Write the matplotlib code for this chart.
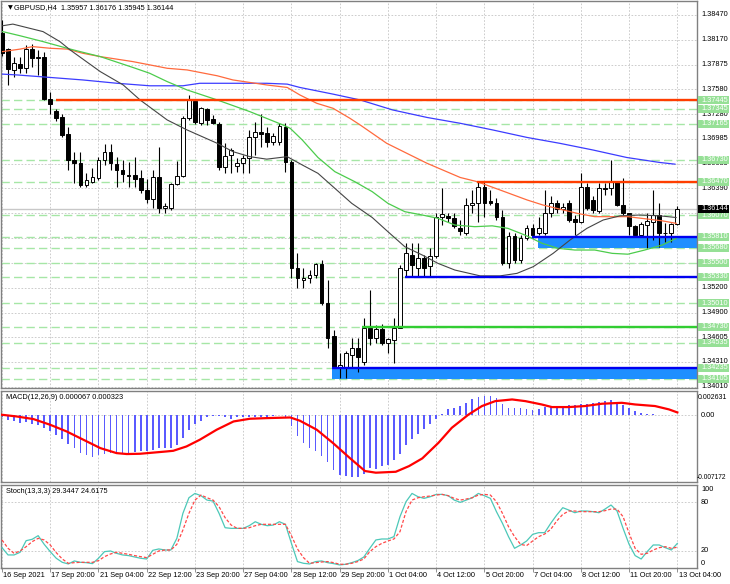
import matplotlib
matplotlib.use("Agg")
import matplotlib.pyplot as plt
from matplotlib.patches import Rectangle
from matplotlib.transforms import blended_transform_factory as blend
import numpy as np

plt.rcParams['font.family'] = ['Liberation Sans', 'DejaVu Sans']

# ---------------- data ----------------
opens = [1.3825, 1.3806, 1.3781, 1.3788, 1.3783, 1.3806, 1.3795, 1.3797, 1.3746, 1.3732,
         1.3725, 1.3704, 1.3673, 1.3669, 1.3643, 1.3646, 1.3651, 1.3673, 1.3682, 1.3668,
         1.3661, 1.3655, 1.3655, 1.3651, 1.3637, 1.3626, 1.3652, 1.3615, 1.3615, 1.3644,
         1.3654, 1.3723, 1.3744, 1.3717, 1.3734, 1.3722, 1.3716, 1.3664, 1.3679, 1.3666,
         1.3669, 1.3675, 1.3700, 1.3706, 1.3705, 1.3694, 1.3694, 1.3712, 1.3670, 1.3543,
         1.3529, 1.3531, 1.3535, 1.3548, 1.3501, 1.3462, 1.3424, 1.3423, 1.3439, 1.3447,
         1.3431, 1.3471, 1.3459, 1.3470, 1.3453, 1.3457, 1.3472, 1.3541, 1.3559, 1.3544,
         1.3556, 1.3546, 1.3558, 1.3605, 1.3606, 1.3603, 1.3592, 1.3586, 1.3619, 1.3621,
         1.3641, 1.3624, 1.3622, 1.3605, 1.3549, 1.3582, 1.3553, 1.3580, 1.3592, 1.3585,
         1.3585, 1.3609, 1.3621, 1.3614, 1.3621, 1.3602, 1.3599, 1.3641, 1.3625, 1.3612,
         1.3639, 1.3639, 1.3646, 1.3619, 1.3609, 1.3594, 1.3583, 1.3595, 1.3599, 1.3607,
         1.3586, 1.3585, 1.35957]
highs = [1.3841, 1.3807, 1.3797, 1.3797, 1.3811, 1.3812, 1.3805, 1.3802, 1.3755, 1.3734,
         1.3728, 1.3712, 1.3682, 1.3682, 1.3657, 1.3663, 1.3676, 1.3692, 1.3692, 1.3676,
         1.3673, 1.3670, 1.3676, 1.3661, 1.3650, 1.3661, 1.3688, 1.3622, 1.3645, 1.3672,
         1.3726, 1.3751, 1.3745, 1.3736, 1.3735, 1.3727, 1.3718, 1.3693, 1.3687, 1.3675,
         1.3679, 1.3709, 1.3718, 1.3728, 1.3712, 1.3705, 1.3717, 1.3717, 1.3673, 1.3561,
         1.3544, 1.3541, 1.3550, 1.3553, 1.3529, 1.3469, 1.3441, 1.3444, 1.3459, 1.3459,
         1.3483, 1.3517, 1.3475, 1.3476, 1.3460, 1.3484, 1.3547, 1.3574, 1.3574, 1.3574,
         1.3559, 1.3567, 1.3609, 1.3639, 1.3610, 1.3610, 1.3601, 1.3627, 1.3637, 1.3647,
         1.3647, 1.3637, 1.3628, 1.3613, 1.3587, 1.3585, 1.3583, 1.3595, 1.3596, 1.3605,
         1.3637, 1.3630, 1.3625, 1.3621, 1.3625, 1.3607, 1.3657, 1.3645, 1.3630, 1.3645,
         1.3645, 1.3673, 1.3647, 1.3651, 1.3610, 1.3595, 1.3599, 1.3610, 1.3637, 1.3621,
         1.3597, 1.3597, 1.36176]
lows = [1.3798, 1.3763, 1.3773, 1.3777, 1.3777, 1.3785, 1.3775, 1.3745, 1.3728, 1.3720,
        1.3700, 1.3661, 1.3645, 1.3641, 1.3641, 1.3645, 1.3649, 1.3667, 1.3661, 1.3641,
        1.3646, 1.3641, 1.3641, 1.3633, 1.3622, 1.3615, 1.3609, 1.3609, 1.3613, 1.3643,
        1.3652, 1.3721, 1.3716, 1.3715, 1.3715, 1.3716, 1.3661, 1.3657, 1.3657, 1.3658,
        1.3657, 1.3657, 1.3679, 1.3688, 1.3688, 1.3691, 1.3691, 1.3658, 1.3531, 1.3520,
        1.3519, 1.3526, 1.3531, 1.3499, 1.3448, 1.3423, 1.3412, 1.3411, 1.3423, 1.3419,
        1.3427, 1.3451, 1.3453, 1.3451, 1.3442, 1.3430, 1.3471, 1.3533, 1.3533, 1.3533,
        1.3533, 1.3533, 1.3555, 1.3595, 1.3599, 1.3591, 1.3583, 1.3583, 1.3610, 1.3599,
        1.3605, 1.3619, 1.3601, 1.3547, 1.3543, 1.3550, 1.3550, 1.3577, 1.3579, 1.3583,
        1.3583, 1.3605, 1.3610, 1.3610, 1.3599, 1.3583, 1.3597, 1.3613, 1.3610, 1.3609,
        1.3631, 1.3631, 1.3618, 1.3607, 1.3583, 1.3582, 1.3582, 1.3567, 1.3577, 1.3569,
        1.3575, 1.3575, 1.35945]
closes = [1.3801, 1.3782, 1.3789, 1.3783, 1.3806, 1.3795, 1.3796, 1.3746, 1.3740, 1.3723,
          1.3703, 1.3673, 1.3669, 1.3643, 1.3649, 1.3652, 1.3673, 1.3682, 1.3669, 1.3661,
          1.3656, 1.3654, 1.3650, 1.3637, 1.3626, 1.3652, 1.3615, 1.3618, 1.3644, 1.3654,
          1.3723, 1.3745, 1.3718, 1.3735, 1.3721, 1.3717, 1.3664, 1.3678, 1.3685, 1.3669,
          1.3675, 1.3700, 1.3706, 1.3704, 1.3694, 1.3702, 1.3714, 1.3670, 1.3543, 1.3531,
          1.3532, 1.3535, 1.3548, 1.3501, 1.3460, 1.3424, 1.3427, 1.3441, 1.3447, 1.3437,
          1.3472, 1.3459, 1.3470, 1.3453, 1.3458, 1.3472, 1.3543, 1.3561, 1.3547, 1.3556,
          1.3544, 1.3558, 1.3605, 1.3608, 1.3603, 1.3594, 1.3588, 1.3619, 1.3621, 1.3641,
          1.3621, 1.3621, 1.3605, 1.3549, 1.3582, 1.3553, 1.3580, 1.3592, 1.3583, 1.3592,
          1.3609, 1.3621, 1.3614, 1.3617, 1.3601, 1.3599, 1.3641, 1.3615, 1.3613, 1.3639,
          1.3638, 1.3646, 1.3619, 1.3609, 1.3594, 1.3583, 1.3596, 1.3600, 1.3607, 1.3585,
          1.3585, 1.3596, 1.36144]

# moving averages (bar position, price)
ma_gray_x = [0.1, 1.8, 6.8, 9.6, 11.3, 16.3, 20.1, 22.9, 27.4, 30.7, 35.7, 38.3, 41.1, 43.9, 47.3,
             48.3, 49.8, 52.4, 55.2, 58.0, 61.4, 64.0, 66.8, 69.7, 72.3, 75.1, 79.3, 82.6, 85.4,
             88.1, 91.4, 94.2, 97.0, 99.7, 102.5, 105.8, 109.1, 111.8]
ma_gray = [1.3834, 1.3836, 1.3827, 1.3815, 1.3805, 1.3779, 1.3763, 1.3745, 1.3721, 1.3709,
           1.3693, 1.3683, 1.3677, 1.3674, 1.3677, 1.3673, 1.3667, 1.3657, 1.3639, 1.3621,
           1.3604, 1.3587, 1.3569, 1.3559, 1.3549, 1.3541, 1.3534, 1.3534, 1.3537, 1.3545,
           1.3561, 1.3577, 1.3591, 1.3601, 1.3606, 1.3607, 1.3606, 1.3604]
ma_green_x = [0.1, 3.0, 6.8, 10.8, 12.4, 16.3, 21.7, 24.5, 27.4, 30.7, 35.7, 41.1, 46.6, 47.8,
              49.8, 52.4, 55.2, 58.5, 61.4, 64.0, 66.8, 69.7, 72.3, 75.1, 78.4, 81.3, 83.9,
              86.7, 89.6, 92.2, 95.0, 98.3, 101.2, 103.8, 106.6, 109.5, 111.8]
ma_green = [1.3827, 1.3822, 1.3815, 1.3807, 1.3804, 1.3797, 1.3784, 1.3777, 1.3767, 1.3757,
            1.3745, 1.3731, 1.3715, 1.3711, 1.3697, 1.3676, 1.3659, 1.3647, 1.3635, 1.3621,
            1.3611, 1.3607, 1.3603, 1.3595, 1.3593, 1.3594, 1.3591, 1.3583, 1.3573, 1.3567,
            1.3565, 1.3565, 1.3561, 1.3560, 1.3565, 1.3571, 1.3579]
ma_orange_x = [0.1, 3.0, 5.1, 8.0, 10.8, 13.4, 16.3, 21.7, 27.4, 30.7, 35.7, 38.3, 43.9, 47.3,
               49.4, 52.2, 54.9, 57.7, 59.4, 63.8, 67.7, 70.5, 76.0, 78.8, 82.6, 87.1, 89.7,
               95.4, 98.3, 103.8, 109.5, 111.8]
ma_orange = [1.3803, 1.3806, 1.3809, 1.3807, 1.3806, 1.3801, 1.3797, 1.3791, 1.3783, 1.3781,
             1.3774, 1.3769, 1.3763, 1.3760, 1.3751, 1.3741, 1.3735, 1.3723, 1.3715, 1.3693,
             1.3679, 1.3669, 1.3652, 1.3647, 1.3637, 1.3625, 1.3619, 1.3609, 1.3605, 1.3605,
             1.3600, 1.3597]
ma_blue_x = [0.1, 2.5, 8.0, 13.4, 19.1, 24.5, 30.0, 32.8, 38.3, 43.9, 47.3, 49.4, 54.9, 59.4,
             64.8, 70.5, 76.0, 81.4, 87.1, 92.5, 98.0, 103.6, 109.1, 111.6]
ma_blue = [1.3776, 1.3775, 1.3772, 1.3769, 1.3765, 1.3762, 1.3762, 1.3765, 1.3765, 1.3765,
           1.3764, 1.3760, 1.3752, 1.3745, 1.3733, 1.3724, 1.3717, 1.3709, 1.3700, 1.3693,
           1.3685, 1.3676, 1.3670, 1.3668]

# MACD main (histogram) in units of 1e-4
macd_hist = [-2.2, -4.7, -5.7, -8.3, -7.5, -9.3, -10.1, -13.6, -17.2, -20.8,
             -25.1, -30.9, -35.2, -40.6, -43.1, -45.2, -43.1, -41.6, -40.6, -40.6,
             -40.6, -40.6, -39.8, -38.8, -38.1, -37.0, -35.2, -35.2, -35.2, -32.3,
             -24.4, -15.4, -9.3, -5.7, -2.2, -1.1, -0.4, -2.2, -4.3, -2.2,
             -2.2, -1.8, -1.8, -1.8, -1.4, -1.1, 0.7, -1.4, -11.8, -22.6,
             -29.8, -35.2, -38.1, -44.2, -50.3, -58.5, -63.9, -65.7, -66.4, -66.8,
             -63.2, -56.4, -58.2, -54.6, -53.9, -48.5, -41.3, -32.3, -25.8, -19.7,
             -15.1, -9.7, -3.6, 1.8, 6.5, 8.3, 10.1, 13.6, 17.2, 19.7,
             20.8, 20.8, 19.0, 12.6, 8.3, 7.5, 7.5, 6.5, 5.4, 6.5,
             9.0, 10.1, 10.1, 10.1, 11.1, 11.1, 11.8, 11.8, 13.6, 14.7,
             15.4, 16.2, 14.7, 11.1, 7.5, 4.7, 2.9, 1.8, 1.1, 0.7,
             0.7, 0.7, 0.67]
# MACD signal (bar position, value in units of 1e-3)
macd_sig_x = [0, 2.4, 5.2, 8.0, 10.7, 13.5, 16.3, 19.0, 20.7, 22.9, 27.3, 28.4, 30.6, 32.8, 35.6,
              38.4, 41.1, 43.9, 47.8, 49.4, 52.2, 54.9, 57.7, 60.2, 62.0, 65.3, 67.5, 69.7, 72.4,
              74.6, 77.4, 79.6, 81.8, 84.6, 86.8, 89.5, 91.2, 94.0, 96.7, 99.5, 102.8, 105.0,
              108.3, 110.6, 112.0]
macd_sig = [0.07, -0.11, -0.39, -1.01, -1.72, -2.62, -3.52, -4.06, -4.16, -4.13, -3.88, -3.81,
            -3.34, -2.62, -1.54, -0.65, -0.36, -0.29, -0.22, -0.57, -1.54, -2.98, -4.60, -5.99,
            -6.17, -6.07, -5.46, -4.63, -2.94, -1.33, 0.11, 1.01, 1.54, 1.72, 1.54, 1.18, 0.90,
            0.90, 1.01, 1.26, 1.36, 1.18, 1.01, 0.65, 0.323]

stoch_k = [24.1, 15.1, 15.1, 18.4, 32.7, 34.4, 38.9, 28.2, 19.2, 11.0,
           6.0, 4.0, 7.7, 6.0, 5.6, 4.4, 11.0, 19.2, 20.0, 17.1,
           15.1, 14.3, 12.6, 11.0, 10.1, 20.8, 22.5, 21.2, 21.2, 35.6,
           66.4, 85.7, 91.0, 88.2, 82.8, 81.6, 66.4, 48.7, 47.9, 47.9,
           47.9, 51.2, 56.1, 52.9, 51.2, 52.0, 56.1, 52.9, 29.4, 6.9,
           4.8, 4.0, 6.9, 7.7, 5.6, 4.4, 2.8, 3.6, 5.6, 8.1,
           12.5, 23.3, 33.6, 34.8, 34.8, 37.7, 62.3, 80.8, 91.0, 86.9,
           84.9, 86.9, 89.8, 89.8, 88.2, 82.8, 80.0, 82.8, 85.7, 91.0,
           88.2, 84.9, 68.5, 54.1, 37.7, 23.3, 27.4, 32.3, 40.5, 42.6,
           42.6, 54.1, 64.4, 73.4, 70.5, 67.2, 69.3, 69.3, 68.5, 67.2,
           71.7, 76.7, 69.3, 47.9, 28.2, 14.3, 10.1, 19.2, 27.4, 27.4,
           24.1, 21.2, 29.34]
stoch_d = [33.6, 23.3, 17.1, 20.0, 25.3, 31.5, 35.6, 33.6, 27.4, 17.9,
           10.1, 4.8, 5.6, 6.0, 6.0, 6.0, 8.1, 13.0, 16.3, 18.4,
           17.1, 15.9, 14.3, 13.0, 11.8, 15.9, 20.0, 21.2, 21.2, 28.2,
           45.9, 66.4, 82.8, 89.0, 85.7, 82.8, 74.6, 61.1, 52.0, 47.9,
           47.9, 48.7, 51.2, 52.9, 52.9, 52.9, 52.9, 52.9, 38.9, 22.5,
           11.8, 4.8, 5.6, 6.4, 6.9, 5.6, 3.6, 3.6, 4.8, 6.9,
           10.1, 19.2, 25.3, 29.4, 32.3, 34.8, 43.8, 68.5, 82.8, 85.7,
           86.9, 87.8, 89.0, 89.8, 88.2, 84.9, 82.8, 84.1, 85.7, 89.0,
           89.8, 89.0, 80.8, 66.4, 50.0, 37.7, 28.2, 26.6, 32.3, 37.7,
           40.9, 46.7, 57.0, 65.2, 69.3, 69.3, 68.5, 68.5, 68.5, 68.5,
           69.7, 71.7, 71.7, 62.3, 41.8, 23.3, 15.9, 17.1, 21.2, 24.1,
           25.3, 23.3, 24.62]

time_labels = ["16 Sep 2021", "17 Sep 20:00", "21 Sep 04:00", "22 Sep 12:00", "23 Sep 20:00",
               "27 Sep 04:00", "28 Sep 12:00", "29 Sep 20:00", "1 Oct 04:00", "4 Oct 12:00",
               "5 Oct 20:00", "7 Oct 04:00", "8 Oct 12:00", "11 Oct 20:00", "13 Oct 04:00"]
label_bars = list(range(0, 113, 8))

price_ticks = [1.38470, 1.38170, 1.37875, 1.37580, 1.37280, 1.36985, 1.36685, 1.36390,
               1.36095, 1.35795, 1.35500, 1.35200, 1.34900, 1.34605, 1.34310, 1.34010]
level_prices = [1.37445, 1.37345, 1.37165, 1.36730, 1.36470, 1.36070, 1.35810, 1.35680,
                1.35500, 1.35330, 1.35010, 1.34730, 1.34535, 1.34235, 1.34105]
current_price = 1.36144

# drawn objects: (price, start bar)
red_lines = [(1.37445, 9.0), (1.36470, 78.8)]
blue_lines = [(1.35330, 66.8), (1.35810, 87.9), (1.34235, 54.7)]
green_lines = [(1.34730, 59.7)]
blue_zones = [(1.35680, 1.35810, 88.9), (1.34105, 1.34235, 54.7)]

# ---------------- figure ----------------
W, H = 730, 584
fig = plt.figure(figsize=(W / 100, H / 100), dpi=100)
fig.patch.set_facecolor('white')


def box(top, bottom, left=1, right=697):
    return [left / W, 1 - bottom / H, (right - left) / W, (bottom - top) / H]


ax = fig.add_axes(box(1, 388))
axm = fig.add_axes(box(391, 482))
axs = fig.add_axes(box(485, 568))
XL = (-0.166, 115.26)
GRID = dict(color='#c4c4c4', lw=0.6, ls=(0, (2, 2)), zorder=0.5)
FS = 5.3
for a in (ax, axm, axs):
    a.set_xlim(*XL)
    a.set_xticks([])
    a.set_yticks([])
    a.set_facecolor('white')
    for s in a.spines.values():
        s.set_color('#808080')
        s.set_linewidth(1.0)
    for b in label_bars:
        a.axvline(b, **GRID)

ax.set_ylim(1.33995, 1.38637)
axm.set_ylim(-0.007172, 0.002631)
axs.set_ylim(-1.0, 101.4)

# price grid
for p in price_ticks:
    ax.axhline(p, **GRID)

# dashed level lines
for p in level_prices:
    ax.axhline(p, color='#a6e6a6', lw=1.0, ls=(0, (6, 3)), zorder=1)

# current price line
ax.axhline(current_price, color='#c8c8c8', lw=1.0, zorder=1.2)

# zones
for lo, hi, start in blue_zones:
    ax.add_patch(Rectangle((start, lo), XL[1] - start, hi - lo, facecolor='#1e8fff',
                           edgecolor='none', zorder=1.5))

# candles
idx = np.arange(len(closes))
o = np.array(opens); h = np.array(highs); l = np.array(lows); c = np.array(closes)
up = c >= o
ax.vlines(idx, l, h, color='black', lw=0.8, zorder=3)
body_lo = np.minimum(o, c)
body_h = np.maximum(np.abs(c - o), 0.00004)
ax.bar(idx, body_h, bottom=body_lo, width=0.62,
       color=['white' if u else 'black' for u in up], edgecolor='black', linewidth=0.7, zorder=4)

# moving averages
ax.plot(ma_blue_x, ma_blue, color='#3c3cff', lw=0.9, zorder=5)
ax.plot(ma_orange_x, ma_orange, color='#ff6a3d', lw=0.9, zorder=5)
ax.plot(ma_green_x, ma_green, color='#4ccc4c', lw=0.9, zorder=5)
ax.plot(ma_gray_x, ma_gray, color='#454545', lw=0.8, zorder=5)

# object lines
for p, s in red_lines:
    ax.hlines(p, s, XL[1], color='#ff3d00', lw=1.7, zorder=6)
for p, s in blue_lines:
    ax.hlines(p, s, XL[1], color='#0000f0', lw=1.7, zorder=6)
for p, s in green_lines:
    ax.hlines(p, s, XL[1], color='#32cd32', lw=1.7, zorder=6)

# right price scale
tr = blend(ax.transAxes, ax.transData)
LX = 1.0058
for p in price_ticks:
    ax.text(LX, p, f"{p:.5f}", transform=tr, fontsize=FS, va='center', ha='left',
            color='black', clip_on=False, zorder=8)
for p in level_prices:
    ax.add_patch(Rectangle((1.0015, p - 0.00048), 0.0445, 0.00096, transform=tr,
                           facecolor='#96e096', edgecolor='none', clip_on=False, zorder=10))
    ax.text(LX, p, f"{p:.5f}", transform=tr, fontsize=FS, va='center', ha='left',
            color='white', clip_on=False, zorder=11)
ax.add_patch(Rectangle((1.0015, current_price - 0.00048), 0.0445, 0.00096, transform=tr,
                       facecolor='black', edgecolor='none', clip_on=False, zorder=12))
ax.text(LX, current_price, f"{current_price:.5f}", transform=tr, fontsize=FS, va='center',
        ha='left', color='white', clip_on=False, zorder=13)

# title
ax.text(0.010, 0.982, "\u25BC", transform=ax.transAxes, fontsize=4.5, va='center', ha='left',
        family=['DejaVu Sans'])
ax.text(0.0185, 0.982, "GBPUSD,H4  1.35957 1.36176 1.35945 1.36144", transform=ax.transAxes,
        fontsize=FS, va='center', ha='left')

# MACD
axm.axhline(0, **GRID)
axm.bar(idx, np.array(macd_hist) * 1e-4, width=0.28, color='#5a5aff', zorder=2)
axm.plot(macd_sig_x, np.array(macd_sig) * 1e-3, color='#ff0000', lw=1.6, zorder=3)
axm.text(0.007, 0.93, "MACD(12,26,9) 0.000067 0.000323", transform=axm.transAxes,
         fontsize=FS, va='center', ha='left')
trm = blend(axm.transAxes, axm.transData)
axm.text(LX, 0.0, "0.00", transform=trm, fontsize=FS, va='center', ha='left', clip_on=False)
axm.text(1.0015, 0.934, "0.002631", transform=axm.transAxes, fontsize=5.0, va='center',
         ha='left', clip_on=False)
axm.text(1.0, 0.045, "-0.007172", transform=axm.transAxes, fontsize=4.8, va='center',
         ha='left', clip_on=False)

# Stochastic
axs.axhline(80, **GRID)
axs.axhline(20, **GRID)
axs.plot(idx, stoch_k, color='#4cc8b8', lw=0.9, zorder=3)
axs.plot(idx, stoch_d, color='#ff4848', lw=0.9, ls=(0, (2.5, 1.5)), zorder=3)
axs.text(0.007, 0.925, "Stoch(13,3,3) 29.3447 24.6175", transform=axs.transAxes,
         fontsize=FS, va='center', ha='left')
trs_y = blend(axs.transAxes, axs.transData)
axs.text(LX, 0.94, "100", transform=axs.transAxes, fontsize=FS, va='center', ha='left',
         clip_on=False)
axs.text(LX, 80, "80", transform=trs_y, fontsize=FS, va='center', ha='left', clip_on=False)
axs.text(LX, 20, "20", transform=trs_y, fontsize=FS, va='center', ha='left', clip_on=False)
axs.text(LX, 0.06, "0", transform=axs.transAxes, fontsize=FS, va='center', ha='left',
         clip_on=False)

# time axis
axs.set_xticks(label_bars)
axs.tick_params(axis='x', length=3, width=0.6, color='#808080', labelbottom=False)
trs = blend(axs.transData, axs.transAxes)
for b, lab in zip(label_bars, time_labels):
    axs.text(b + 0.2, -0.085, lab, transform=trs, fontsize=FS, ha='left', va='center',
             clip_on=False)

fig.savefig('out.png', dpi=100, facecolor='white')
